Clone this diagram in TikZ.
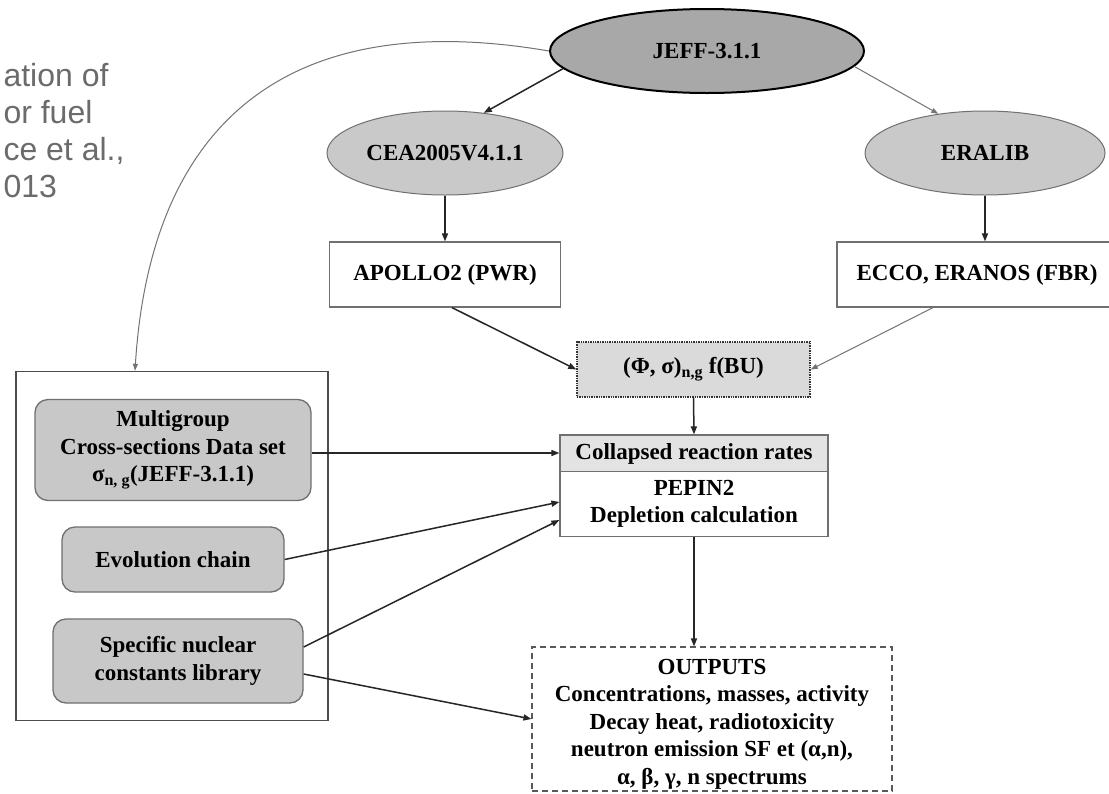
\documentclass[tikz,border=0pt]{standalone}
\usepackage{fontspec}
\setmainfont{Liberation Serif}
\newfontfamily\captfont{Liberation Sans}
\usetikzlibrary{shapes.geometric,arrows.meta}
\definecolor{jeffgray}{HTML}{A8A8A8}
\definecolor{libgray}{HTML}{C9C9C9}
\definecolor{boxgray}{HTML}{C8C8C8}
\definecolor{phigray}{HTML}{DADADA}
\definecolor{headgray}{HTML}{E3E3E3}
\definecolor{captgray}{HTML}{6B6B6B}
\definecolor{edgegray}{HTML}{707070}
\tikzset{
  jeffnode/.style={ellipse, draw=black, line width=2pt, fill=jeffgray, inner sep=0pt},
  libnode/.style={ellipse, draw=edgegray, line width=1pt, fill=libgray, inner sep=0pt},
  codenode/.style={rectangle, draw=edgegray, line width=1.2pt, fill=white, inner sep=0pt},
  phinode/.style={rectangle, draw=black!80, densely dotted, line width=1.4pt, fill=phigray, inner sep=0pt},
  headnode/.style={rectangle, draw=edgegray, line width=1.2pt, fill=headgray, inner sep=0pt},
  bodynode/.style={rectangle, draw=edgegray, line width=1.2pt, fill=white, inner sep=0pt, align=center},
  outnode/.style={rectangle, draw=black!65, dashed, dash pattern=on 6pt off 4pt, line width=1.1pt, inner sep=0pt, align=center},
  panelnode/.style={rectangle, draw=black!70, line width=1.5pt, inner sep=0pt},
  roundnode/.style={rectangle, rounded corners=13pt, draw=edgegray, line width=1.3pt, fill=boxgray, inner sep=0pt, align=center},
  captnode/.style={anchor=base west, text=captgray, font=\captfont\fontsize{32}{32}\selectfont},
  arr/.style={-{Triangle[length=8pt,width=6pt]}, line width=1.5pt, draw=black!85},
  garr/.style={-{Triangle[length=7pt,width=5pt]}, line width=1pt, draw=black!55},
}
\begin{document}
\begin{tikzpicture}[x=1pt, y=-1pt, font=\fontsize{23}{27.5}\selectfont\bfseries]
\useasboundingbox (0,0) rectangle (1109,793);
\fill[white] (0,0) rectangle (1109,793);
\clip (0,0) rectangle (1109,793);

% caption fragment
\node[captnode] (c1) at (0,86) {ation of};
\node[captnode] (c2) at (0,123) {or fuel};
\node[captnode] (c3) at (0,160) {ce et al.,};
\node[captnode] (c4) at (0,197) {013};

% top
\node[jeffnode, minimum width=314pt, minimum height=84pt] (jeff) at (707,51) {JEFF-3.1.1};
\node[libnode, minimum width=236pt, minimum height=84pt] (cea) at (445,153) {CEA2005V4.1.1};
\node[libnode, minimum width=240pt, minimum height=84pt] (eral) at (985,153) {ERALIB};
\node[codenode, minimum width=231pt, minimum height=65pt] (apollo) at (445,274.5) {APOLLO2 (PWR)};
\node[codenode, minimum width=280pt, minimum height=65pt] (ecco) at (977,274.5) {ECCO, ERANOS (FBR)};
\node[phinode, minimum width=233pt, minimum height=55pt] (phi) at (693.5,369.5) {(Φ, σ)\textsubscript{n,g} f(BU)};

% collapsed / pepin
\node[headnode, minimum width=268pt, minimum height=37pt] (coll) at (694,453.5) {Collapsed reaction rates};
\node[bodynode, minimum width=268pt, minimum height=65pt] (pepin) at (694,504) {PEPIN2\\Depletion calculation};

% outputs
\node[outnode, minimum width=360pt, minimum height=144pt] (out) at (712,719) {};
\node[align=center] (outtxt) at (712,724) {OUTPUTS\\Concentrations, masses, activity\\Decay heat, radiotoxicity\\neutron emission SF et (α,n),\\α, β, γ, n spectrums};

% left panel
\node[panelnode, minimum width=312pt, minimum height=349pt] (panel) at (172,546) {};
\node[roundnode, minimum width=276pt, minimum height=101pt] (multi) at (173,450) {Multigroup\\Cross-sections Data set\\σ\textsubscript{n, g}(JEFF-3.1.1)};
\node[roundnode, minimum width=222pt, minimum height=65pt] (evo) at (173,559.5) {Evolution chain};
\node[roundnode, minimum width=250pt, minimum height=84pt] (spec) at (178,661) {Specific nuclear\\constants library};

% connectors
\draw[garr] (jeff.west) .. controls (280,5) and (150,130) .. ([xshift=-37pt]panel.north);
\draw[arr] (jeff.187) -- (cea.46);
\draw[garr] (jeff.-6) -- (eral.140);
\draw[arr] (cea.south) -- (apollo.north);
\draw[arr] (eral.south) -- (eral.south |- ecco.north);
\draw[arr] ([xshift=7pt]apollo.south) -- (phi.west);
\draw[garr] ([xshift=-44pt]ecco.south) -- (phi.east);
\draw[arr] (phi.south) -- (coll.north);
\draw[arr] ([yshift=-3pt]multi.east) -- ([yshift=-3pt]multi.east -| coll.west);
\draw[arr] (evo.east) -- ([yshift=2pt]pepin.west);
\draw[arr] ([yshift=14pt]spec.east) -- ([yshift=-16pt]pepin.west);
\draw[arr] ([yshift=-13pt]spec.east) -- (out.west);
\draw[arr] (pepin.south) -- (pepin.south |- out.north);
\end{tikzpicture}
\end{document}
